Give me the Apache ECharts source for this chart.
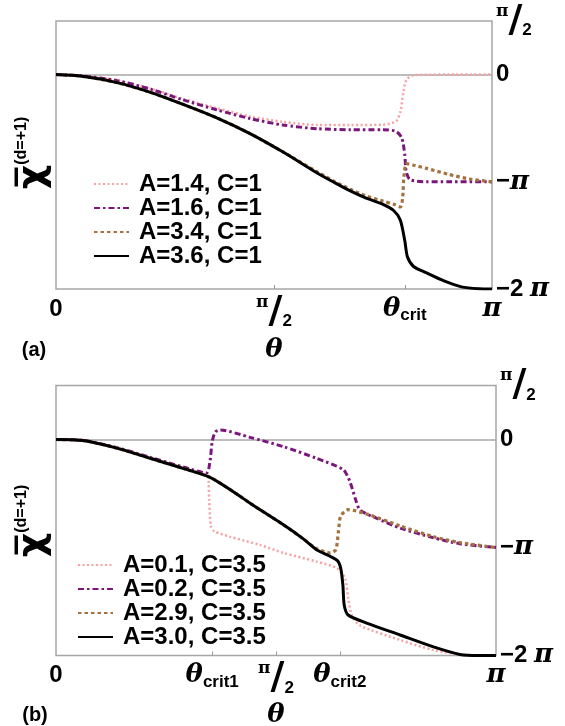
<!DOCTYPE html>
<html><head><meta charset="utf-8">
<script src="https://cdn.jsdelivr.net/npm/echarts@6/dist/echarts.min.js"></script>
<style>html,body{margin:0;padding:0;background:#fff}#c{width:565px;height:726px}</style>
</head><body><div id="c"></div>
<script>
// ---------- data (theta and chi both in units of pi) ----------
// Panel (a), C = 1
const aNames = ['A=1.4, C=1', 'A=1.6, C=1', 'A=3.4, C=1', 'A=3.6, C=1'];
const aT14 = [0, 0.06, 0.14, 0.22, 0.29, 0.37, 0.445, 0.52, 0.6, 0.675, 0.75, 0.78, 0.79, 0.797, 0.804, 0.82, 0.9, 1];
const aV14 = [0, -0.012, -0.054, -0.135, -0.225, -0.315, -0.39, -0.44, -0.47, -0.47, -0.467, -0.436, -0.343, -0.156, -0.047, -0.006, 0, 0];
const aT16 = [0, 0.06, 0.14, 0.22, 0.29, 0.37, 0.445, 0.52, 0.6, 0.675, 0.75, 0.78, 0.793, 0.8, 0.803, 0.812, 0.85, 0.9, 1];
const aV16 = [0, -0.012, -0.056, -0.14, -0.234, -0.33, -0.41, -0.47, -0.505, -0.514, -0.514, -0.53, -0.59, -0.75, -0.9, -0.98, -1.0, -1.0, -1.0];
const aT34 = [0, 0.06, 0.14, 0.22, 0.29, 0.37, 0.445, 0.52, 0.6, 0.64, 0.675, 0.71, 0.75, 0.775, 0.79, 0.795, 0.798, 0.804, 0.82, 0.85, 0.9, 0.95, 1];
const aV34 = [0, -0.016, -0.075, -0.17, -0.275, -0.405, -0.55, -0.72, -0.91, -1.0, -1.07, -1.13, -1.18, -1.21, -1.235, -1.15, -0.95, -0.83, -0.845, -0.875, -0.93, -0.975, -1.0];
const aT36 = [0, 0.06, 0.14, 0.22, 0.29, 0.37, 0.445, 0.52, 0.6, 0.64, 0.675, 0.71, 0.75, 0.775, 0.79, 0.8, 0.806, 0.82, 0.85, 0.89, 0.93, 0.97, 1];
const aV36 = [0, -0.016, -0.075, -0.17, -0.275, -0.405, -0.55, -0.72, -0.92, -1.01, -1.085, -1.15, -1.21, -1.27, -1.36, -1.55, -1.7, -1.79, -1.85, -1.925, -1.98, -1.998, -2];
// Panel (b), C = 3.5
const bNames = ['A=0.1, C=3.5', 'A=0.2, C=3.5', 'A=2.9, C=3.5', 'A=3.0, C=3.5'];
const bT01 = [0, 0.062, 0.138, 0.214, 0.289, 0.345, 0.348, 0.352, 0.36, 0.395, 0.464, 0.517, 0.592, 0.638, 0.657, 0.664, 0.672, 0.69, 0.782, 0.858, 0.93, 1];
const bV01 = [0, -0.01, -0.08, -0.174, -0.267, -0.34, -0.55, -0.8, -0.85, -0.9, -0.977, -1.05, -1.13, -1.19, -1.285, -1.47, -1.625, -1.72, -1.856, -1.95, -1.995, -2];
const bT02 = [0, 0.062, 0.138, 0.214, 0.289, 0.342, 0.35, 0.355, 0.362, 0.373, 0.441, 0.517, 0.592, 0.653, 0.668, 0.68, 0.691, 0.729, 0.782, 0.858, 0.918, 1];
const bV02 = [0, -0.008, -0.075, -0.165, -0.255, -0.31, -0.2, -0.02, 0.07, 0.088, 0.02, -0.066, -0.174, -0.28, -0.39, -0.545, -0.653, -0.73, -0.82, -0.91, -0.965, -1];
const bT29 = [0, 0.062, 0.138, 0.214, 0.289, 0.35, 0.403, 0.441, 0.517, 0.562, 0.592, 0.623, 0.636, 0.642, 0.647, 0.664, 0.706, 0.782, 0.858, 0.918, 1];
const bV29 = [0, -0.01, -0.08, -0.174, -0.267, -0.35, -0.483, -0.59, -0.79, -0.92, -1.01, -1.05, -1.02, -0.85, -0.71, -0.65, -0.69, -0.8, -0.9, -0.955, -1];
const bT30 = [0, 0.062, 0.138, 0.214, 0.289, 0.35, 0.403, 0.441, 0.517, 0.562, 0.592, 0.638, 0.647, 0.652, 0.655, 0.664, 0.706, 0.782, 0.858, 0.918, 0.96, 1];
const bV30 = [0, -0.01, -0.08, -0.174, -0.267, -0.35, -0.483, -0.59, -0.79, -0.92, -1.02, -1.116, -1.19, -1.347, -1.532, -1.625, -1.7, -1.81, -1.92, -1.99, -2, -2];
// ticks
const aXTickVals = [0, 0.5, 0.8, 1];
const aXTickLabels = ['0', 'π/2', 'θcrit', 'π'];
const bXTickVals = [0, 0.355, 0.5, 0.645, 1];
const bXTickLabels = ['0', 'θcrit1', 'π/2', 'θcrit2', 'π'];
const yTickVals = [0.5, 0, -1, -2];
const yTickLabels = ['π/2', '0', '−π', '−2 π'];

// ---------- styling ----------
const SANS = 'Liberation Sans';
const SERIF = 'DejaVu Serif';
const rich = {
  n: {fontFamily: SANS, fontWeight: 'bold', fontSize: 24, color: '#000', lineHeight: 30},
  pi: {fontFamily: SERIF, fontWeight: 'bold', fontStyle: 'italic', fontSize: 26, color: '#000', lineHeight: 30},
  p: {fontFamily: SERIF, fontWeight: 'bold', fontSize: 17, color: '#000', verticalAlign: 'top', lineHeight: 36},
  s: {fontFamily: 'DejaVu Sans', fontWeight: 'bold', fontSize: 38, color: '#000', lineHeight: 36},
  d: {fontFamily: SANS, fontWeight: 'bold', fontSize: 17, color: '#000', verticalAlign: 'bottom', lineHeight: 36},
  th: {fontFamily: SERIF, fontWeight: 'bold', fontStyle: 'italic', fontSize: 26, color: '#000', lineHeight: 30},
  sub: {fontFamily: SANS, fontWeight: 'bold', fontSize: 17, color: '#000', verticalAlign: 'bottom', lineHeight: 30}
};
function fmtLabel(lbl) {
  if (lbl === 'π/2') return '{p|π}{s|/}{d|2}';
  if (lbl === 'π') return '{pi|π}';
  if (lbl.indexOf('θ') === 0) return '{th|θ}{sub|' + lbl.slice(1) + '}';
  if (lbl.indexOf('π') >= 0) return '{n|' + lbl.replace('π', '') + '}{pi|π}';
  return '{n|' + lbl + '}';
}
function pairs(t, v) { return t.map((x, i) => [x, v[i]]); }
const styles = [
  {color: '#f7a3a3', width: 2.5, type: [2, 2.5]},
  {color: '#7b157b', width: 3, type: [6, 3, 2.5, 3]},
  {color: '#a3723f', width: 3.2, type: [3.5, 3]},
  {color: '#000000', width: 3, type: 'solid'}
];
function mk(name, t, v, k, gi) {
  const s = {
    name, type: 'line', xAxisIndex: gi, yAxisIndex: gi, data: pairs(t, v),
    symbol: 'none', showSymbol: false, smooth: 0.25,
    lineStyle: {color: styles[k].color, width: styles[k].width, type: styles[k].type},
    itemStyle: {color: styles[k].color}, z: 3 + k
  };
  if (k === 0) {
    s.markLine = {silent: true, symbol: 'none', label: {show: false}, z: 1,
      lineStyle: {color: '#a6a6a6', width: 1.5, type: 'solid'}, data: [{yAxis: 0}]};
  }
  return s;
}
function xAxis(gi, vals, labels) {
  return {
    gridIndex: gi, type: 'value', min: 0, max: 1,
    axisLine: {show: false, onZero: false}, splitLine: {show: false},
    axisTick: {show: true, inside: true, length: 4, customValues: vals.slice(1, -1), lineStyle: {color: '#999', width: 1}},
    axisLabel: {customValues: vals, margin: 5, rich,
      formatter: (v) => fmtLabel(labels[vals.indexOf(v)] || '')}
  };
}
function yAxis(gi) {
  return {
    gridIndex: gi, type: 'value', position: 'right', min: -2, max: 0.5,
    axisLine: {show: false, onZero: false}, splitLine: {show: false}, axisTick: {show: false},
    axisLabel: {customValues: yTickVals, margin: 4, rich,
      formatter: (v) => fmtLabel(yTickLabels[yTickVals.indexOf(v)] || '')}
  };
}
const legendText = {fontFamily: SANS, fontWeight: 'bold', fontSize: 24, color: '#000', lineHeight: 24, padding: [0, 0, 0, 5]};
const legendCommon = {orient: 'vertical', itemWidth: 35, itemHeight: 18, itemGap: 0,
  itemStyle: {opacity: 0, borderWidth: 0}, textStyle: legendText, selectedMode: false};
const ytitle = (x, y) => ({
  type: 'text', x, y, rotation: Math.PI / 2,
  style: {text: '{c|χ\u0305}{u|(d=+1)}', align: 'center', verticalAlign: 'middle',
    rich: {c: {fontFamily: 'DejaVu Sans', fontSize: 38, fontWeight: 'bold', fill: '#000', lineHeight: 38},
           u: {fontFamily: SANS, fontSize: 16, fontWeight: 'bold', fill: '#000', verticalAlign: 'top', lineHeight: 38}}}
});
const tx = (x, y, text, font) => ({type: 'text', x, y, style: {text, font, fill: '#000', align: 'center', verticalAlign: 'middle'}});

const option = {
  animation: false,
  backgroundColor: '#fff',
  grid: [
    {left: 56, top: 21, width: 436, height: 268, show: true, borderColor: '#a6a6a6', borderWidth: 1.5},
    {left: 56, top: 385.5, width: 440, height: 270, show: true, borderColor: '#a6a6a6', borderWidth: 1.5}
  ],
  xAxis: [xAxis(0, aXTickVals, aXTickLabels), xAxis(1, bXTickVals, bXTickLabels)],
  yAxis: [yAxis(0), yAxis(1)],
  legend: [
    Object.assign({data: aNames, left: 88, top: 167}, legendCommon),
    Object.assign({data: bNames, left: 72, top: 548}, legendCommon)
  ],
  graphic: [
    ytitle(33, 153), ytitle(33, 521),
    tx(34, 350, '(a)', 'bold 20px Liberation Sans'),
    tx(274, 350, 'θ', 'bold italic 26px DejaVu Serif'),
    tx(35, 715, '(b)', 'bold 20px Liberation Sans'),
    tx(276, 715, 'θ', 'bold italic 26px DejaVu Serif')
  ],
  series: [
    mk(aNames[0], aT14, aV14, 0, 0), mk(aNames[1], aT16, aV16, 1, 0),
    mk(aNames[2], aT34, aV34, 2, 0), mk(aNames[3], aT36, aV36, 3, 0),
    mk(bNames[0], bT01, bV01, 0, 1), mk(bNames[1], bT02, bV02, 1, 1),
    mk(bNames[2], bT29, bV29, 2, 1), mk(bNames[3], bT30, bV30, 3, 1)
  ]
};
const chart = echarts.init(document.getElementById('c'), null, {renderer: 'canvas'});
chart.setOption(option);
</script></body></html>
